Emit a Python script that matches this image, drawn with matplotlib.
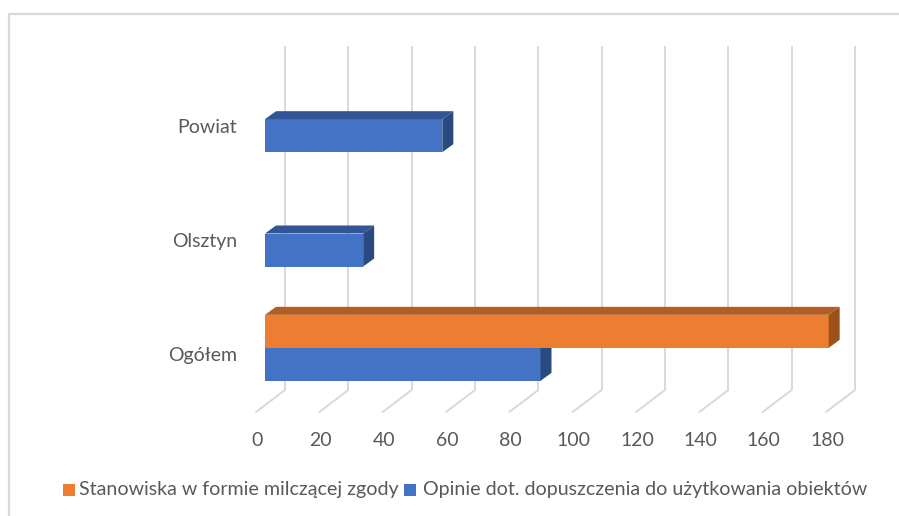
#!/usr/bin/env python3
import matplotlib
matplotlib.use('Agg')
import matplotlib.pyplot as plt
from matplotlib.patches import Polygon, Rectangle
from matplotlib.transforms import Affine2D

categories = ['Ogółem', 'Olsztyn', 'Powiat']
opinie = [87, 31, 56]
stanowiska = [178, 0, 0]
ticks = list(range(0, 181, 20))
series_names = ['Stanowiska w formie milczącej zgody',
                'Opinie dot. dopuszczenia do użytkowania obiektów']

W, H = 899, 516
DEPTH_X, DEPTH_Y = 11, 8
BLUE = ('#4472C4', '#335593', '#2A4A80')
ORANGE = ('#ED7D31', '#B35E22', '#9C5118')
GRID = '#D9D9D9'
TEXT = '#595959'

plt.rcParams['font.family'] = ['Lato', 'DejaVu Sans']

fig = plt.figure(figsize=(W / 100, H / 100), dpi=100)


def px_x(p):
    return p / W


def px_y(p):
    return 1 - p / H


# axes box: value 0 at px 265, 180 at px 835; categories centred on 348 / 233.5 / 119
ax = fig.add_axes([px_x(265), px_y(405), (835 - 265) / W, (405 - 62) / H])
ax.set_xlim(0, 180)
ax.set_ylim(-0.5, 2.5)
ax.axis('off')
ax.patch.set_alpha(0)

# outer chart frame
fig.add_artist(plt.Line2D([px_x(9), px_x(9), px_x(899)], [0, px_y(14), px_y(14)],
                          color=GRID, lw=1.6))

# back wall grid and floor, shifted from the bar plane in pixels
back = ax.transData + Affine2D().translate(20, 0)
front = ax.transData + Affine2D().translate(-9, 0)
y_bottom = (405 - 390) / (405 - 62) * 3 - 0.5
y_top = (405 - 46) / (405 - 62) * 3 - 0.5
y_floor = y_bottom - (412 - 390) / (405 - 62) * 3
for t in ticks:
    ax.plot([t, t], [y_bottom, y_top], color=GRID, lw=1.4, transform=back,
            clip_on=False, zorder=1, solid_capstyle='butt')
    ax.annotate('', xy=(t, y_floor), xytext=(t, y_bottom),
                xycoords=front, textcoords=back, annotation_clip=False,
                arrowprops=dict(arrowstyle='-', color=GRID, lw=1.4,
                                shrinkA=0, shrinkB=0))
    ax.text(t, y_floor, str(t), transform=ax.transData + Affine2D().translate(-8, -28),
            ha='center', va='center', fontsize=14, color=TEXT, clip_on=False)


def bar3d(values, offset, height, colors, z):
    for y, val in enumerate(values):
        if val == 0:
            continue
        ax.barh(y + offset, val, left=0, height=height, align='edge',
                color=colors[0], zorder=z)
        x0, y0p = ax.transData.transform((0, y + offset))
        x1, y1p = ax.transData.transform((val, y + offset + height))
        top = [(x0, y1p), (x1, y1p), (x1 + DEPTH_X, y1p + DEPTH_Y), (x0 + DEPTH_X, y1p + DEPTH_Y)]
        side = [(x1, y0p), (x1, y1p), (x1 + DEPTH_X, y1p + DEPTH_Y), (x1 + DEPTH_X, y0p + DEPTH_Y)]
        for pts, col in ((top, colors[1]), (side, colors[2])):
            ax.add_patch(Polygon(pts, closed=True, transform=None, fc=col, ec='none',
                                 zorder=z, clip_on=False))


bar_h = 33 / (405 - 62) * 3
bar3d(opinie, -bar_h, bar_h, BLUE, 3)
bar3d(stanowiska, 0, bar_h, ORANGE, 4)

label_shift = ax.transData + Affine2D().translate(-28, -8)
for i, name in enumerate(categories):
    ax.text(0, i, name, transform=label_shift, ha='right', va='center',
            fontsize=14, color=TEXT, clip_on=False)

# legend, laid out by hand like the original
fig.add_artist(Rectangle((px_x(63), px_y(496)), 12 / W, 12 / H, transform=fig.transFigure,
                         fc=ORANGE[0], ec='none'))
fig.add_artist(Rectangle((px_x(404), px_y(496)), 12 / W, 12 / H, transform=fig.transFigure,
                         fc=BLUE[0], ec='none'))
fig.text(px_x(79), px_y(490), series_names[0], ha='left', va='center', fontsize=14.1, color=TEXT)
fig.text(px_x(423), px_y(490), series_names[1], ha='left', va='center', fontsize=14.1, color=TEXT)

fig.savefig('out.png', dpi=100, facecolor='white')
plt.close(fig)
